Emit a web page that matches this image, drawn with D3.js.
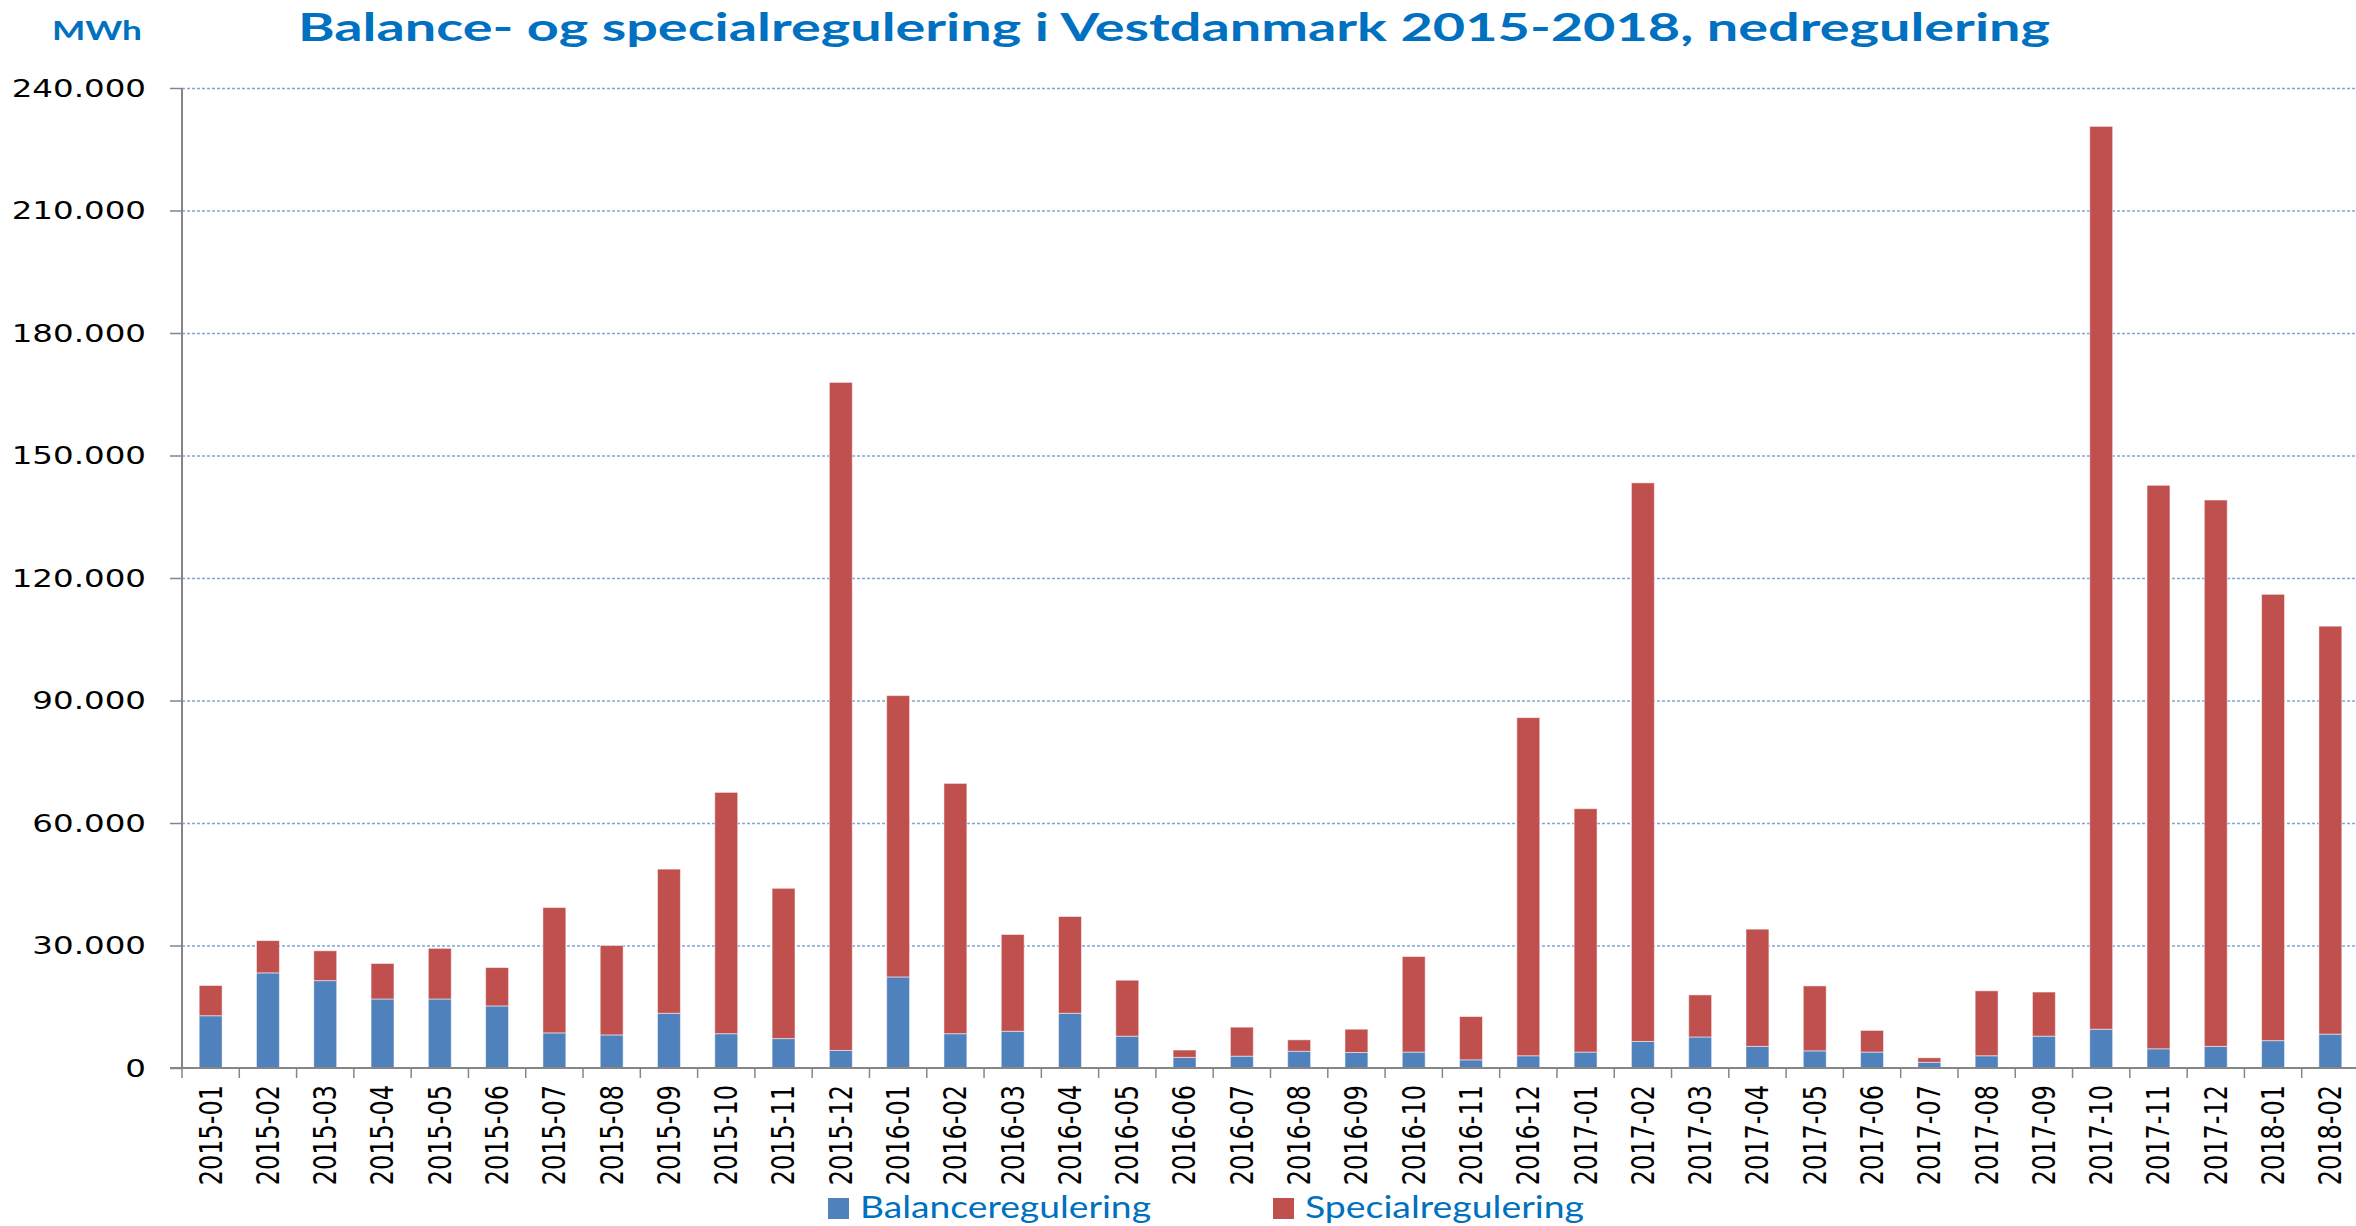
<!DOCTYPE html>
<html>
<head>
<meta charset="utf-8">
<script src="https://cdn.jsdelivr.net/npm/d3@7"></script>
<style>
	body { margin: 0; background: #fff; }
	svg { display: block; }
</style>
</head>
<body>
<script>
// monthly down-regulation in West Denmark, MWh
const months = [
	"2015-01", "2015-02", "2015-03", "2015-04", "2015-05", "2015-06",
	"2015-07", "2015-08", "2015-09", "2015-10", "2015-11", "2015-12",
	"2016-01", "2016-02", "2016-03", "2016-04", "2016-05", "2016-06",
	"2016-07", "2016-08", "2016-09", "2016-10", "2016-11", "2016-12",
	"2017-01", "2017-02", "2017-03", "2017-04", "2017-05", "2017-06",
	"2017-07", "2017-08", "2017-09", "2017-10", "2017-11", "2017-12",
	"2018-01", "2018-02"
];
const balance = [
	12800, 23300, 21400, 16900, 16900, 15200, 8600, 8100, 13400, 8400, 7200, 4300,
	22300, 8400, 9000, 13400, 7800, 2600, 2900, 4100, 3800, 3900, 2000, 3000,
	3900, 6500, 7600, 5300, 4200, 3900, 1400, 3000, 7800, 9500, 4700, 5300,
	6700, 8300
];
const special = [
	7400, 7900, 7300, 8700, 12400, 9400, 30700, 21900, 35300, 59100, 36800, 163600,
	68900, 61300, 23700, 23700, 13700, 1800, 7100, 2800, 5700, 23400, 10600, 82800,
	59600, 136800, 10300, 28700, 15900, 5300, 1100, 15900, 10800, 221100, 138000, 133800,
	109300, 99900
];
const yTicks = [0, 30000, 60000, 90000, 120000, 150000, 180000, 210000, 240000];
const seriesNames = ["Balanceregulering", "Specialregulering"];
const seriesColors = ["#4F81BD", "#C0504D"];

const chartWidth = 2356;
const chartHeight = 1226;
const plotLeft = 182;
const plotRight = 2359;
const plotTop = 88;
const plotBottom = 1068;
const stretch = 1.3;

const svg = d3.select("body")
	.append("svg")
	.attr("width", chartWidth)
	.attr("height", chartHeight);

const x = d3.scaleBand()
	.domain(months)
	.range([plotLeft, plotRight])
	.paddingInner(0.6)
	.paddingOuter(0.3);

const y = d3.scaleLinear()
	.domain([0, 240000])
	.range([plotBottom, plotTop]);

const fmt = d3.formatLocale({ decimal: ",", thousands: ".", grouping: [3], currency: ["", ""] }).format(",");

// title and unit
svg.append("text")
	.attr("x", 298)
	.attr("y", 41)
	.attr("textLength", 1752)
	.attr("lengthAdjust", "spacingAndGlyphs")
	.style("font-family", "Lato, 'Open Sans', sans-serif")
	.style("font-weight", "bold")
	.style("font-size", "39px")
	.style("fill", "#0070C0")
	.text("Balance- og specialregulering i Vestdanmark 2015-2018, nedregulering");

svg.append("text")
	.attr("x", 52)
	.attr("y", 40)
	.attr("textLength", 90)
	.attr("lengthAdjust", "spacingAndGlyphs")
	.style("font-family", "Lato, 'Open Sans', sans-serif")
	.style("font-weight", "bold")
	.style("font-size", "26px")
	.style("fill", "#0070C0")
	.text("MWh");

// gridlines
svg.append("g")
	.selectAll("line")
	.data(yTicks.filter((d) => d > 0))
	.enter()
	.append("line")
	.attr("x1", plotLeft)
	.attr("x2", chartWidth)
	.attr("y1", (d) => y(d) + 0.5)
	.attr("y2", (d) => y(d) + 0.5)
	.attr("stroke", "#7FA6D6")
	.attr("stroke-width", 1.5)
	.attr("stroke-dasharray", "3,2");

// y axis
let yAxis = d3.axisLeft(y).tickValues(yTicks).tickSize(12).tickFormat(fmt);
let yG = svg.append("g")
	.attr("transform", "translate(" + plotLeft + ",0)")
	.call(yAxis);
yG.select(".domain").remove();
yG.selectAll(".tick line").attr("stroke", "#868686").attr("stroke-width", 1.5);
yG.selectAll(".tick text")
	.attr("x", -36 / stretch)
	.attr("transform", "scale(" + stretch + ",1)")
	.style("font-family", "'DejaVu Sans', sans-serif")
	.style("font-size", "25px")
	.style("fill", "#000");

// stacked bars
const rows = months.map((m, i) => ({ month: m, b: balance[i], s: special[i] }));
const stack = d3.stack().keys(["b", "s"])(rows);

svg.append("g")
	.selectAll("g")
	.data(stack)
	.enter()
	.append("g")
	.attr("fill", (d, i) => seriesColors[i])
	.selectAll("rect")
	.data((d) => d)
	.enter()
	.append("rect")
	.attr("x", (d) => x(d.data.month))
	.attr("width", x.bandwidth())
	.attr("y", (d) => y(d[1]))
	.attr("height", (d) => y(d[0]) - y(d[1]))
	.attr("stroke", "rgba(255,255,255,0.5)")
	.attr("stroke-width", 1);

// axis lines
svg.append("line")
	.attr("x1", plotLeft).attr("x2", plotLeft)
	.attr("y1", plotTop).attr("y2", plotBottom)
	.attr("stroke", "#868686").attr("stroke-width", 2);

let xAxis = d3.axisBottom(x).tickSize(0);
let xG = svg.append("g")
	.attr("transform", "translate(0," + plotBottom + ")")
	.call(xAxis);
xG.select(".domain").attr("stroke", "#868686").attr("stroke-width", 2).attr("d", "M" + (plotLeft - 12) + ",0H" + chartWidth);
xG.selectAll(".tick text")
	.attr("x", -17)
	.attr("y", 0)
	.attr("dy", "0.35em")
	.attr("transform", "scale(" + stretch + ",1) rotate(-90)")
	.style("text-anchor", "end")
	.style("font-family", "'DejaVu Sans', sans-serif")
	.style("font-size", "24px")
	.style("fill", "#000");

// category separators below the axis
xG.append("g")
	.selectAll("line")
	.data(months)
	.enter()
	.append("line")
	.attr("x1", (d) => x(d) - x.step() * x.paddingOuter())
	.attr("x2", (d) => x(d) - x.step() * x.paddingOuter())
	.attr("y1", 0)
	.attr("y2", 10)
	.attr("stroke", "#868686")
	.attr("stroke-width", 1.5);

// legend
const legend = svg.append("g")
	.selectAll("g")
	.data(seriesNames)
	.enter()
	.append("g")
	.attr("transform", (d, i) => "translate(" + [828, 1273][i] + ",1198)");
legend.append("rect")
	.attr("width", 21)
	.attr("height", 21)
	.attr("fill", (d, i) => seriesColors[i]);
legend.append("text")
	.attr("x", 32)
	.attr("y", 20)
	.attr("textLength", (d, i) => [291, 279][i])
	.attr("lengthAdjust", "spacingAndGlyphs")
	.style("font-family", "Lato, 'Open Sans', sans-serif")
	.style("font-size", "30px")
	.style("fill", "#0070C0")
	.text((d) => d);
</script>
</body>
</html>
